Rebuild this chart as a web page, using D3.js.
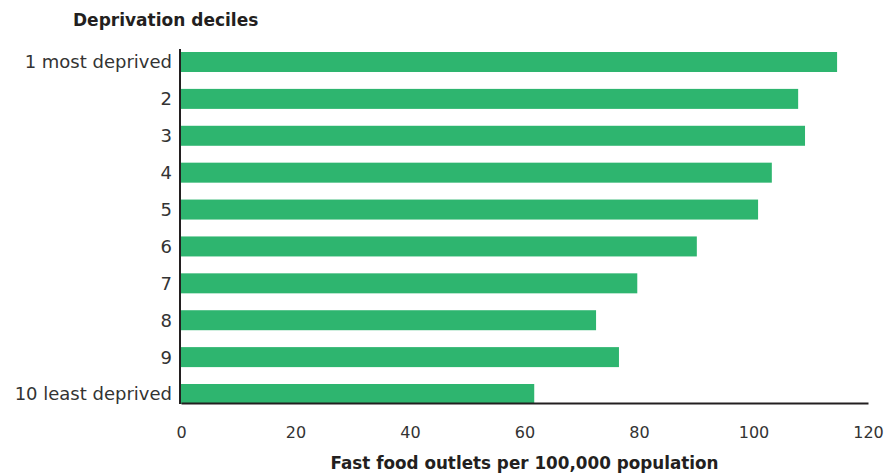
<!DOCTYPE html>
<html><head><meta charset="utf-8">
<script src="https://cdn.jsdelivr.net/npm/d3@7"></script>
<style>
body{margin:0;background:#fff;}
text{font-family:"DejaVu Sans",sans-serif;}
</style></head>
<body><svg id="c" width="884" height="475"></svg>
<script>
const categories = ["1 most deprived","2","3","4","5","6","7","8","9","10 least deprived"];
const values = [114.6,107.8,109.0,103.2,100.8,90.1,79.7,72.5,76.5,61.7];
const xTicks = [0,20,40,60,80,100,120];
const yTitle = "Deprivation deciles";
const xTitle = "Fast food outlets per 100,000 population";

const svg = d3.select("#c");
const mLeft = 181, mRight = 868, mTop = 52, mBottom = 404;
const x = d3.scaleLinear().domain([0,120]).range([mLeft,mRight]);
const y = d3.scaleBand().domain(categories).range([mTop,mBottom]).paddingInner(0.458).paddingOuter(0);

svg.selectAll("rect.bar").data(values).join("rect")
  .attr("class","bar")
  .attr("x", x(0))
  .attr("y", (d,i)=>y(categories[i]))
  .attr("width", d=>x(d)-x(0))
  .attr("height", y.bandwidth())
  .attr("fill","#2eb56f");

// x axis
const xa = svg.append("g").attr("transform",`translate(0,${mBottom-1})`)
  .call(d3.axisBottom(x).tickValues(xTicks).tickSize(0).tickPadding(24));
xa.select(".domain").attr("stroke","#231f20").attr("stroke-width",2);
xa.selectAll("text").attr("font-size",16).attr("fill","#333").style("font-family","'DejaVu Sans',sans-serif");

// y axis
const ya = svg.append("g").attr("transform",`translate(${mLeft-1},0)`)
  .call(d3.axisLeft(y).tickSize(0).tickPadding(8));
ya.select(".domain").attr("d",`M0,${mTop-3}V${mBottom}`).attr("stroke","#231f20").attr("stroke-width",2);
ya.selectAll("text").attr("font-size",18).attr("fill","#333").attr("dy","0.36em").style("font-family","'DejaVu Sans',sans-serif");

svg.append("text").attr("x",73).attr("y",26).attr("font-size",17).attr("font-weight",600)
  .attr("fill","#231f20").text(yTitle);
svg.append("text").attr("x",(mLeft+mRight)/2).attr("y",469).attr("text-anchor","middle")
  .attr("font-size",16.8).attr("font-weight",600).attr("fill","#231f20").text(xTitle);
</script></body></html>
